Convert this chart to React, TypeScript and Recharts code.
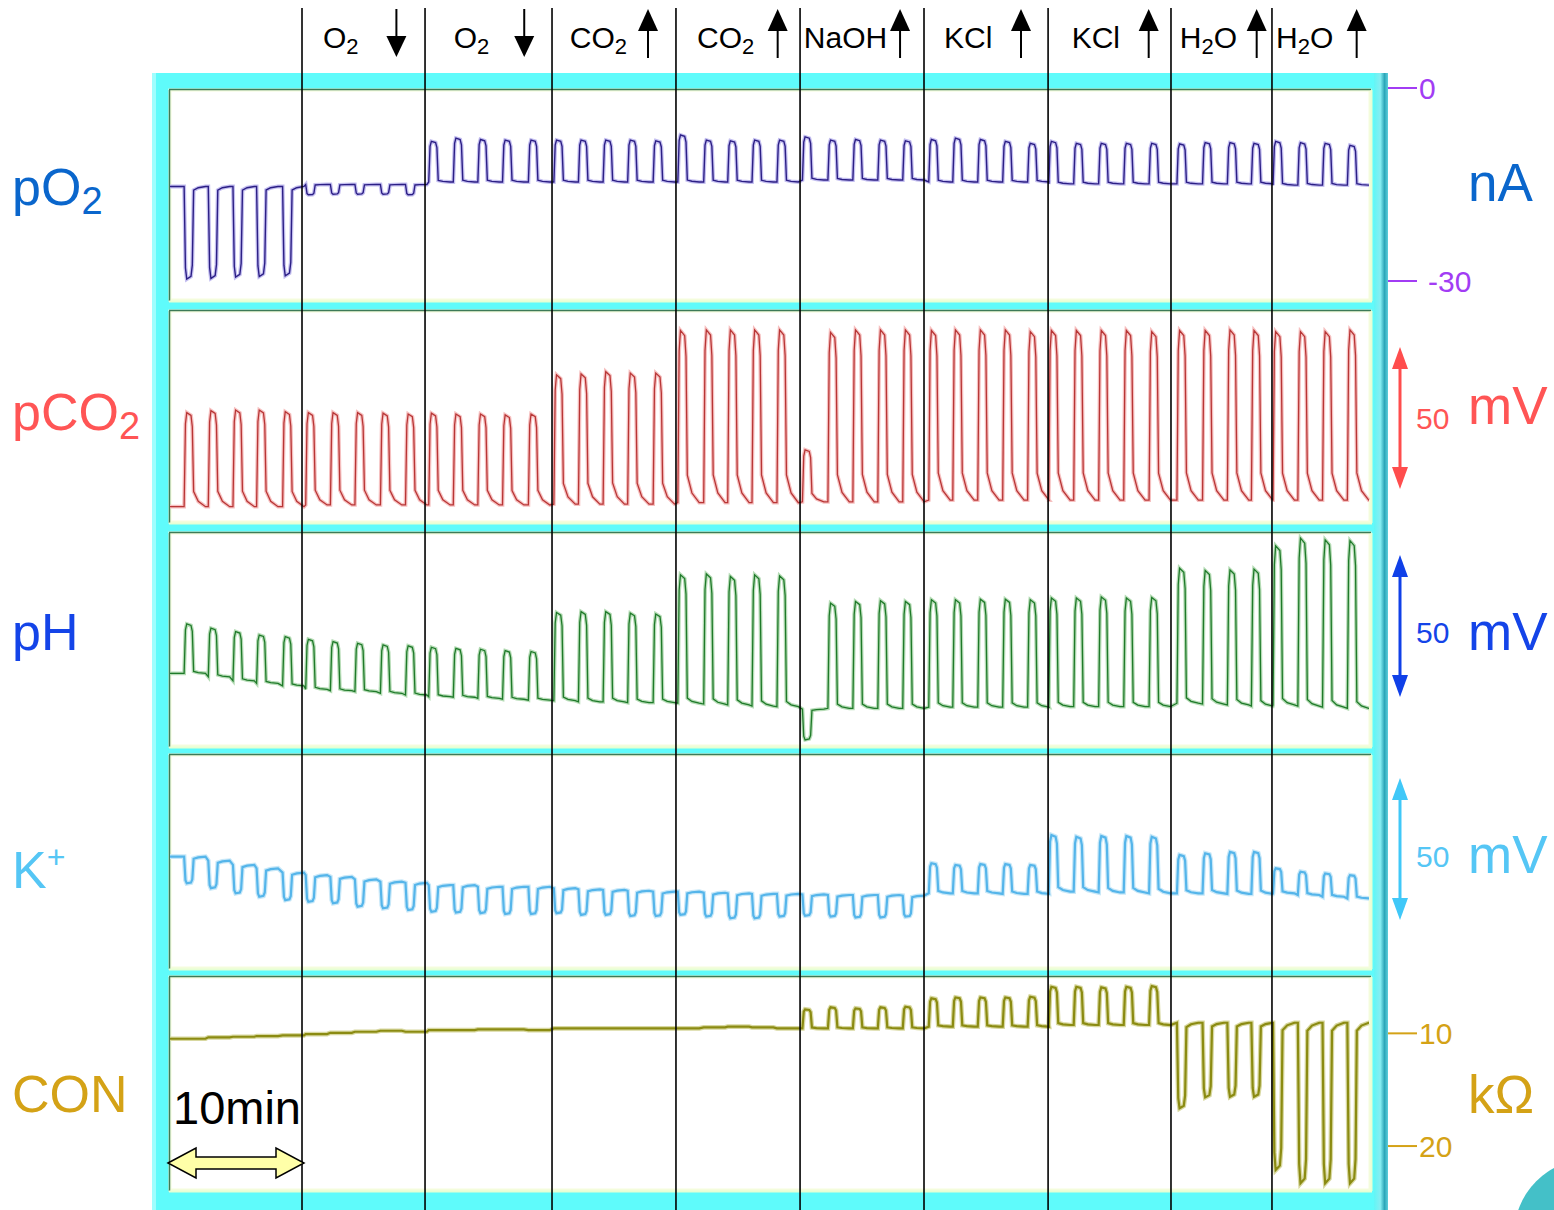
import { LineChart, Line, XAxis, YAxis, ReferenceLine } from "recharts"

const FONT = "'Liberation Sans', Arial, sans-serif"

// time in minutes, 0 = left edge of the trace panels
const pulseAt = [
  1.43, 3.26, 5.13, 6.92, 8.89,
  10.64, 12.51, 14.37, 16.3, 18.2,
  19.96, 21.82, 23.68, 25.55, 27.51,
  29.44, 31.3, 33.17, 35.03, 36.96,
  38.83, 40.79, 42.61, 44.45, 46.34,
  48.27, 50.2, 52.09, 53.98, 55.87,
  57.84, 59.66, 61.55, 63.44, 65.33,
  66.93, 68.82, 70.71, 72.61, 74.53,
  76.64, 78.58, 80.46, 82.28,
  83.92, 85.8, 87.67, 89.55,
]
const traceEnd = 90.83
const eventAt = [10, 19.32, 28.94, 38.33, 47.73, 57.12, 66.52, 75.83, 83.48]
const eventLabels = ["O_2", "O_2", "CO_2", "CO_2", "NaOH", "KCl", "KCl", "H_2O", "H_2O"]
const eventDirs = ["down", "down", "up", "up", "up", "up", "up", "up", "up"]

// pO2, nA
const pO2Base = [
  -15.3, -15.3, -15.3, -15.3, -15.3,
  -15.0, -15.0, -15.0, -15.0, -15.0,
  -14.6, -14.6, -14.6, -14.6, -14.6,
  -14.6, -14.6, -14.6, -14.6, -14.6,
  -14.6, -14.6, -14.6, -14.6, -14.6,
  -14.3, -14.3, -14.3, -14.3, -14.3,
  -14.6, -14.6, -14.6, -14.6, -14.6,
  -14.9, -14.9, -14.9, -14.9, -14.9,
  -14.9, -14.9, -14.9, -14.9,
  -15.1, -15.1, -15.1, -15.1,
]
const pO2Peak = [
  -29.7, -29.6, -29.4, -29.3, -29.2,
  -16.6, -16.5, -16.5, -16.5, -16.6,
  -8.3, -7.8, -8.0, -8.1, -8.1,
  -8.1, -8.1, -8.1, -8.1, -8.2,
  -7.3, -8.1, -8.2, -8.1, -8.1,
  -7.6, -8.1, -8.0, -8.1, -8.2,
  -8.0, -7.8, -8.0, -8.3, -8.6,
  -8.3, -8.6, -8.6, -8.6, -8.6,
  -8.7, -8.5, -8.5, -8.6,
  -8.3, -8.5, -8.6, -8.9,
]

// pCO2, mV
const pCO2Base = [
  5.4, 5.4, 5.4, 5.4, 5.4,
  6.0, 6.0, 6.0, 6.0, 6.0,
  6.0, 6.0, 6.0, 6.0, 6.0,
  6.3, 6.3, 6.3, 6.3, 6.3,
  6.8, 6.8, 6.8, 6.8, 6.8,
  7.1, 7.1, 7.1, 7.1, 7.1,
  7.7, 7.7, 7.7, 7.7, 7.7,
  7.7, 7.7, 7.7, 7.7, 7.7,
  7.7, 7.7, 7.7, 7.7,
  7.7, 7.7, 7.7, 7.7,
]
const pCO2Peak = [
  38.5, 39.2, 39.4, 39.4, 38.8,
  38.5, 38.5, 38.5, 38.3, 38.0,
  38.3, 38.0, 38.0, 37.7, 38.0,
  51.8, 52.1, 52.9, 52.4, 52.4,
  67.4, 67.6, 67.6, 67.6, 67.6,
  25.4, 66.7, 67.6, 67.6, 67.6,
  67.4, 67.6, 67.6, 67.6, 67.0,
  67.4, 67.4, 67.4, 67.4, 67.0,
  67.4, 67.4, 67.6, 67.4,
  67.0, 67.0, 67.0, 67.6,
]

// pH, mV
const pHBase = [
  25.2, 24.0, 22.6, 21.7, 20.8,
  19.6, 19.1, 18.8, 18.2, 17.6,
  17.0, 16.8, 16.4, 16.1, 15.8,
  15.6, 15.2, 15.2, 14.9, 14.9,
  14.7, 14.4, 14.1, 13.7, 13.5,
  12.6, 12.9, 12.9, 12.9, 12.9,
  13.3, 13.3, 13.3, 13.3, 13.3,
  13.5, 13.5, 13.5, 13.5, 13.5,
  14.7, 14.4, 14.1, 13.7,
  14.1, 13.7, 13.3, 12.9,
]
const pHPeak = [
  42.6, 41.1, 39.9, 38.7, 38.1,
  37.2, 36.4, 35.8, 35.2, 34.9,
  34.4, 34.0, 33.7, 33.2, 32.9,
  46.6, 46.9, 46.9, 46.4, 46.1,
  59.9, 60.2, 59.3, 59.9, 59.5,
  1.8, 49.9, 50.5, 50.8, 50.5,
  51.1, 51.1, 51.3, 51.3, 51.1,
  51.7, 51.7, 52.1, 51.7, 51.9,
  62.2, 61.4, 61.6, 61.9,
  70.1, 72.8, 72.2, 71.9,
]

// K+, mV
const kBase = [
  39.2, 37.8, 36.3, 35.1, 33.6,
  32.7, 32.1, 31.2, 30.4, 30.0,
  29.2, 29.2, 28.6, 28.6, 28.6,
  28.1, 27.7, 27.5, 27.2, 26.9,
  26.9, 26.5, 26.3, 26.1, 26.1,
  25.9, 25.7, 25.7, 25.7, 25.5,
  26.3, 26.3, 26.3, 26.1, 26.1,
  26.9, 26.9, 26.6, 26.6, 26.3,
  26.3, 26.3, 26.1, 26.1,
  26.3, 25.7, 25.1, 24.5,
]
const kPeak = [
  29.8, 28.1, 26.3, 25.1, 23.9,
  23.3, 22.8, 21.6, 21.0, 20.4,
  19.8, 19.5, 19.3, 19.0, 19.0,
  19.3, 18.7, 18.7, 18.3, 18.3,
  18.7, 18.1, 17.5, 17.5, 18.1,
  18.4, 18.1, 17.8, 17.8, 18.1,
  36.9, 36.3, 36.6, 36.6, 36.3,
  46.8, 46.2, 46.5, 46.5, 46.2,
  39.8, 40.4, 40.9, 40.9,
  35.1, 33.9, 33.3, 32.7,
]

// CON, kOhm
const conBase = [
  10.48, 10.35, 10.3, 10.24, 10.18,
  10.06, 9.95, 9.86, 9.77, 9.86,
  9.71, 9.71, 9.65, 9.65, 9.71,
  9.56, 9.56, 9.56, 9.56, 9.56,
  9.56, 9.47, 9.41, 9.47, 9.56,
  9.56, 9.56, 9.56, 9.56, 9.56,
  9.41, 9.41, 9.41, 9.41, 9.41,
  9.26, 9.26, 9.26, 9.26, 9.26,
  9.06, 9.06, 9.06, 9.06,
  9.06, 9.06, 9.06, 9.06,
]
const conPeak = [
  10.48, 10.35, 10.3, 10.24, 10.18,
  10.06, 9.95, 9.86, 9.77, 9.86,
  9.71, 9.71, 9.65, 9.65, 9.71,
  9.56, 9.56, 9.56, 9.56, 9.56,
  9.56, 9.47, 9.41, 9.47, 9.56,
  7.87, 7.69, 7.78, 7.69, 7.64,
  6.89, 6.81, 6.81, 6.81, 6.75,
  5.87, 5.87, 5.92, 5.87, 5.8,
  16.65, 15.68, 15.63, 15.63,
  22.13, 23.31, 23.31, 23.31,
]

const pO2Ticks = [0, -30]
const conTicks = [10, 20]

// layout
const X_MAX = 92.27
const PLOT_W = 1218
const textDx = [21, 28.6, 17.8, 21, 3.8, 20, 23.6, 8.8, 4]
const arrowDx = [94.4, 99.2, 96, 101.7, 100, 97, 100.6, 85.7, 84.7]
const panels = [
  [90, 300],
  [311, 522],
  [533, 746],
  [755, 968],
  [977, 1190],
]

type Pt = { t: number; v: number }

// calibration pulses: base -> peak (rounded top) -> back with a short tail
function buildTrace(base: number[], peak: number[], tail: number): Pt[] {
  const h = 0.36
  const pts: Pt[] = [{ t: 0, v: base[0] }]
  pulseAt.forEach((c, i) => {
    const b = base[i]
    const p = peak[i]
    const a = p - b
    pts.push({ t: c - h, v: b })
    pts.push({ t: c - h + 0.1, v: b + a * 0.88 })
    pts.push({ t: c - h + 0.2, v: p })
    pts.push({ t: c + h - 0.2, v: b + a * 0.97 })
    pts.push({ t: c + h - 0.1, v: b + a * 0.85 })
    pts.push({ t: c + h, v: b + a * tail })
    pts.push({ t: c + h + 0.35, v: b + a * tail * 0.35 })
    pts.push({ t: c + h + 0.9, v: b })
  })
  pts.push({ t: traceEnd, v: base[base.length - 1] })
  return pts
}

const pO2Data = buildTrace(pO2Base, pO2Peak, 0.04)
const pCO2Data = buildTrace(pCO2Base, pCO2Peak, 0.16)
const pHData = buildTrace(pHBase, pHPeak, 0.04)
const kData = buildTrace(kBase, kPeak, 0.08)
const conData = buildTrace(conBase, conPeak, 0.05)

type AxisCfg = { ticks: number[]; color: string; reversed?: boolean }

function Trace(props: {
  top: number
  height: number
  domain: [number, number]
  data: Pt[]
  color: string
  width: number
  halo?: string
  axis?: AxisCfg
}) {
  const { top, height, domain, data, color, width, halo, axis } = props
  return (
    <div style={{ position: "absolute", left: 170, top }}>
      <LineChart
        width={PLOT_W + 100}
        height={height}
        data={data}
        margin={{ top: 0, right: axis ? 0 : 100, bottom: 0, left: 0 }}
        style={{ fontFamily: FONT }}
      >
        <XAxis type="number" dataKey="t" domain={[0, X_MAX]} hide allowDataOverflow />
        {axis ? (
          <YAxis
            orientation="right"
            width={100}
            domain={domain}
            reversed={axis.reversed}
            ticks={axis.ticks}
            interval={0}
            allowDataOverflow
            axisLine={false}
            tickSize={29}
            tickLine={{ stroke: axis.color, strokeWidth: 2 }}
            tick={(p: any) => (
              <text
                x={p.x + (p.payload.value < 0 ? 9 : 0)}
                y={p.y}
                dy="0.36em"
                fill={axis.color}
                fontSize={30}
                fontFamily={FONT}
                textAnchor="start"
              >
                {p.payload.value}
              </text>
            )}
          />
        ) : (
          <YAxis domain={domain} hide allowDataOverflow />
        )}
        {halo && (
          <Line dataKey="v" stroke={halo} strokeWidth={width + 2.5} dot={false} isAnimationActive={false} />
        )}
        <Line dataKey="v" stroke={color} strokeWidth={width} dot={false} isAnimationActive={false} />
      </LineChart>
    </div>
  )
}

function EventLabel({ viewBox, i }: { viewBox: any; i: number }) {
  const x = viewBox.x
  const parts = eventLabels[i].split(/_(\d)/)
  const tx = x + textDx[i]
  const ax = x + arrowDx[i]
  return (
    <g>
      <text x={tx} y={40} fontSize={30} fontFamily={FONT} fill="#000">
        {parts.map((s, k) =>
          k % 2 === 1 ? (
            <tspan key={k} fontSize={22} dy={6}>
              {s}
            </tspan>
          ) : (
            <tspan key={k} dy={k > 0 ? -6 : 0}>
              {s}
            </tspan>
          )
        )}
      </text>
      {eventDirs[i] === "up" ? (
        <g>
          <line x1={ax} y1={50} x2={ax} y2={20} stroke="#000" strokeWidth={2} />
          <polygon points={`${ax},1 ${ax - 10},23 ${ax + 10},23`} fill="#000" />
        </g>
      ) : (
        <g>
          <line x1={ax} y1={1} x2={ax} y2={30} stroke="#000" strokeWidth={2} />
          <polygon points={`${ax - 10},28 ${ax + 10},28 ${ax},49`} fill="#000" />
        </g>
      )}
    </g>
  )
}

function VArrow({ x, y1, y2, color }: { x: number; y1: number; y2: number; color: string }) {
  return (
    <g>
      <line x1={x} y1={y1 + 18} x2={x} y2={y2 - 18} stroke={color} strokeWidth={3} />
      <polygon points={`${x},${y1} ${x - 8},${y1 + 22} ${x + 8},${y1 + 22}`} fill={color} />
      <polygon points={`${x},${y2} ${x - 8},${y2 - 22} ${x + 8},${y2 - 22}`} fill={color} />
    </g>
  )
}

export default function App() {
  const blue = "#0a66cc"
  const red = "#ff5555"
  const royal = "#1444e8"
  const sky = "#55c6f5"
  const gold = "#d4a216"
  return (
    <div style={{ position: "absolute", left: 0, top: 0, width: 1554, height: 1210, overflow: "hidden", background: "#fff" }}>
      <svg width={1554} height={1210} style={{ position: "absolute", left: 0, top: 0 }}>
        <defs>
          <linearGradient id="bevel" x1="0" x2="1" y1="0" y2="0">
            <stop offset="0%" stopColor="#62f6f6" />
            <stop offset="45%" stopColor="#86eef2" />
            <stop offset="75%" stopColor="#2ca6b8" />
            <stop offset="100%" stopColor="#5ccfdc" />
          </linearGradient>
        </defs>
        <rect x={152} y={73} width={1236} height={1137} fill="#5ffbfb" />
        <rect x={152} y={73} width={4} height={1137} fill="#9ffefe" />
        <rect x={1374} y={73} width={14} height={1137} fill="url(#bevel)" />
        {panels.map(([t, b], i) => (
          <g key={i}>
            <rect x={170} y={t} width={1200} height={b - t} fill="#fff" stroke="#f4fcdc" strokeWidth={3} />
            <line x1={169} y1={t - 0.5} x2={1371} y2={t - 0.5} stroke="#3d7a58" strokeWidth={1.5} />
            <line x1={169.5} y1={t} x2={169.5} y2={b + 1} stroke="#3d7a58" strokeWidth={1.5} />
            <line x1={169} y1={b + 1.5} x2={1372} y2={b + 1.5} stroke="#e6ffd4" strokeWidth={2} />
            <line x1={1371.5} y1={t} x2={1371.5} y2={b + 1} stroke="#e6ffd4" strokeWidth={2} />
          </g>
        ))}
        <circle cx={1590} cy={1235} r={76} fill="#44c0c8" />
      </svg>

      <Trace top={70} height={230} domain={[-32.95, 2.8]} data={pO2Data} color="#2c1f85" halo="#c4bff0" width={1.4} axis={{ ticks: pO2Ticks, color: "#a23cf4" }} />
      <Trace top={310} height={212} domain={[0, 74.6]} data={pCO2Data} color="#b83636" halo="#f6c0c0" width={1.3} />
      <Trace top={533} height={212} domain={[0, 74.6]} data={pHData} color="#1f7a2a" halo="#b6dcb6" width={1.3} />
      <Trace top={755} height={213} domain={[0, 75]} data={kData} color="#55b5ea" halo="#c8e8f8" width={2.2} />
      <Trace top={977} height={213} domain={[5.0, 23.9]} data={conData} color="#8b8b12" halo="#d8d8a0" width={2.2} axis={{ ticks: conTicks, color: gold, reversed: true }} />

      <div style={{ position: "absolute", left: 170, top: 8 }}>
        <LineChart width={PLOT_W} height={1202} data={[{ t: 0, v: 0 }, { t: X_MAX, v: 1 }]} margin={{ top: 0, right: 0, bottom: 0, left: 0 }}>
          <XAxis type="number" dataKey="t" domain={[0, X_MAX]} hide allowDataOverflow />
          <YAxis domain={[0, 1]} hide allowDataOverflow />
          <Line dataKey="v" stroke="none" dot={false} isAnimationActive={false} />
          {eventAt.map((t, i) => (
            <ReferenceLine
              key={i}
              x={t}
              stroke="#000"
              strokeWidth={1.6}
              label={(p: any) => <EventLabel viewBox={p.viewBox} i={i} />}
            />
          ))}
        </LineChart>
      </div>

      <svg width={1554} height={1210} style={{ position: "absolute", left: 0, top: 0, pointerEvents: "none" }} fontFamily={FONT}>
        <text x={12} y={205} fontSize={52} fill={blue}>
          pO<tspan fontSize={38} dy={9}>2</tspan>
        </text>
        <text x={12} y={430} fontSize={52} fill={red}>
          pCO<tspan fontSize={38} dy={9}>2</tspan>
        </text>
        <text x={12} y={650} fontSize={52} fill={royal}>
          pH
        </text>
        <text x={12} y={888} fontSize={52} fill={sky}>
          K<tspan fontSize={32} dy={-20}>+</tspan>
        </text>
        <text x={12} y={1112} fontSize={52} fill={gold}>
          CON
        </text>

        <text x={1468} y={201} fontSize={53} fill={blue}>nA</text>
        <VArrow x={1400} y1={347} y2={489} color="#ff4d4d" />
        <text x={1416} y={429} fontSize={30} fill={red}>50</text>
        <text x={1468} y={424} fontSize={53} fill={red}>mV</text>
        <VArrow x={1400} y1={555} y2={697} color="#1040e8" />
        <text x={1416} y={643} fontSize={30} fill={royal}>50</text>
        <text x={1468} y={650} fontSize={53} fill={royal}>mV</text>
        <VArrow x={1400} y1={778} y2={920} color="#40c8f8" />
        <text x={1416} y={867} fontSize={30} fill={sky}>50</text>
        <text x={1468} y={873} fontSize={53} fill={sky}>mV</text>
        <text x={1468} y={1113} fontSize={53} fill={gold}>kΩ</text>

        <text x={173} y={1124} fontSize={47} fill="#000">10min</text>
        <polygon
          points="168,1163 196,1148 196,1157 276,1157 276,1148 304,1163 276,1178 276,1169 196,1169 196,1178"
          fill="#ffffa8"
          stroke="#000"
          strokeWidth={1.5}
        />
      </svg>
    </div>
  )
}
